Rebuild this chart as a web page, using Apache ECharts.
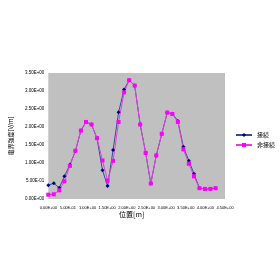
<!DOCTYPE html>
<html><head><meta charset="utf-8">
<script src="https://cdn.jsdelivr.net/npm/echarts@6/dist/echarts.min.js"></script>
<style>html,body{margin:0;padding:0;background:#fff}#c{width:280px;height:280px}</style>
</head><body><div id="c"></div>
<script>
var positions = [0, 0.14, 0.28, 0.41, 0.55, 0.69, 0.83, 0.96, 1.10, 1.24, 1.38, 1.51, 1.65, 1.79, 1.93, 2.06, 2.20, 2.34, 2.48, 2.61, 2.75, 2.89, 3.03, 3.16, 3.30, 3.44, 3.58, 3.71, 3.85, 3.99, 4.13, 4.26];
var connected = [0.38, 0.44, 0.31, 0.63, 0.95, 1.33, 1.90, 2.14, 2.07, 1.69, 0.80, 0.36, 1.36, 2.41, 3.04, 3.30, 3.15, 2.07, 1.28, 0.43, 1.21, 1.81, 2.40, 2.37, 2.17, 1.45, 1.06, 0.70, 0.30, 0.28, 0.28, 0.30];
var disconnected = [0.12, 0.13, 0.24, 0.49, 0.92, 1.34, 1.90, 2.14, 2.07, 1.69, 1.07, 0.51, 1.06, 2.14, 2.96, 3.30, 3.15, 2.07, 1.28, 0.43, 1.21, 1.81, 2.40, 2.36, 2.14, 1.38, 0.98, 0.63, 0.30, 0.28, 0.28, 0.30];
var seriesNames = ['接続', '非接続'];
var xName = '位置[m]';
var yName = '電界強度[V/m]';

function sci(v) {
  var s = Number(v).toExponential(2).toUpperCase();
  var m = s.match(/^(-?[\d.]+)E([+-])(\d+)$/);
  if (!m) return s;
  var e = m[3].length < 2 ? '0' + m[3] : m[3];
  return m[1] + 'E' + m[2] + e;
}
function pairs(xs, ys) { return xs.map(function (x, i) { return [x, ys[i]]; }); }

var ff = '"Noto Sans CJK JP", "DejaVu Sans", sans-serif';
var nf = '"Liberation Sans Narrow", "Liberation Sans", sans-serif';
var chart = echarts.init(document.getElementById('c'), null, {renderer: 'canvas'});
chart.setOption({
  animation: false,
  backgroundColor: '#ffffff',
  grid: {left: 46, right: 55, top: 73, bottom: 81, show: true, backgroundColor: '#c0c0c0', borderWidth: 0},
  legend: {
    orient: 'vertical', left: 230, top: 127, itemWidth: 16, itemHeight: 5, itemGap: 4,
    textStyle: {fontSize: 6, fontFamily: ff, color: '#000'},
    data: seriesNames
  },
  xAxis: {
    type: 'value', min: 0, max: 4.5, interval: 0.5,
    name: xName, nameLocation: 'middle', nameGap: 12,
    nameTextStyle: {fontSize: 7, fontFamily: ff, color: '#000', padding: [0, 10, 0, 0]},
    axisLine: {show: false}, axisTick: {show: false}, splitLine: {show: false},
    axisLabel: {fontSize: 4, color: '#000', margin: 7, formatter: sci, fontFamily: nf, hideOverlap: false}
  },
  yAxis: {
    type: 'value', min: 0, max: 3.5, interval: 0.5,
    name: yName, nameLocation: 'middle', nameGap: 23, nameRotate: 90,
    nameTextStyle: {fontSize: 6, fontFamily: ff, color: '#000'},
    axisLine: {show: false}, axisTick: {show: false}, splitLine: {show: false},
    axisLabel: {fontSize: 4.5, color: '#000', margin: 4, formatter: sci, fontFamily: nf}
  },
  series: [
    {name: seriesNames[0], type: 'line', data: pairs(positions, connected),
     symbol: 'diamond', symbolSize: 4, showAllSymbol: true,
     lineStyle: {color: '#3a4a9a', width: 1}, itemStyle: {color: '#000080'}},
    {name: seriesNames[1], type: 'line', data: pairs(positions, disconnected),
     symbol: 'rect', symbolSize: 4, showAllSymbol: true,
     lineStyle: {color: '#e040e0', width: 1}, itemStyle: {color: '#ff00ff'}}
  ]
});
</script></body></html>
